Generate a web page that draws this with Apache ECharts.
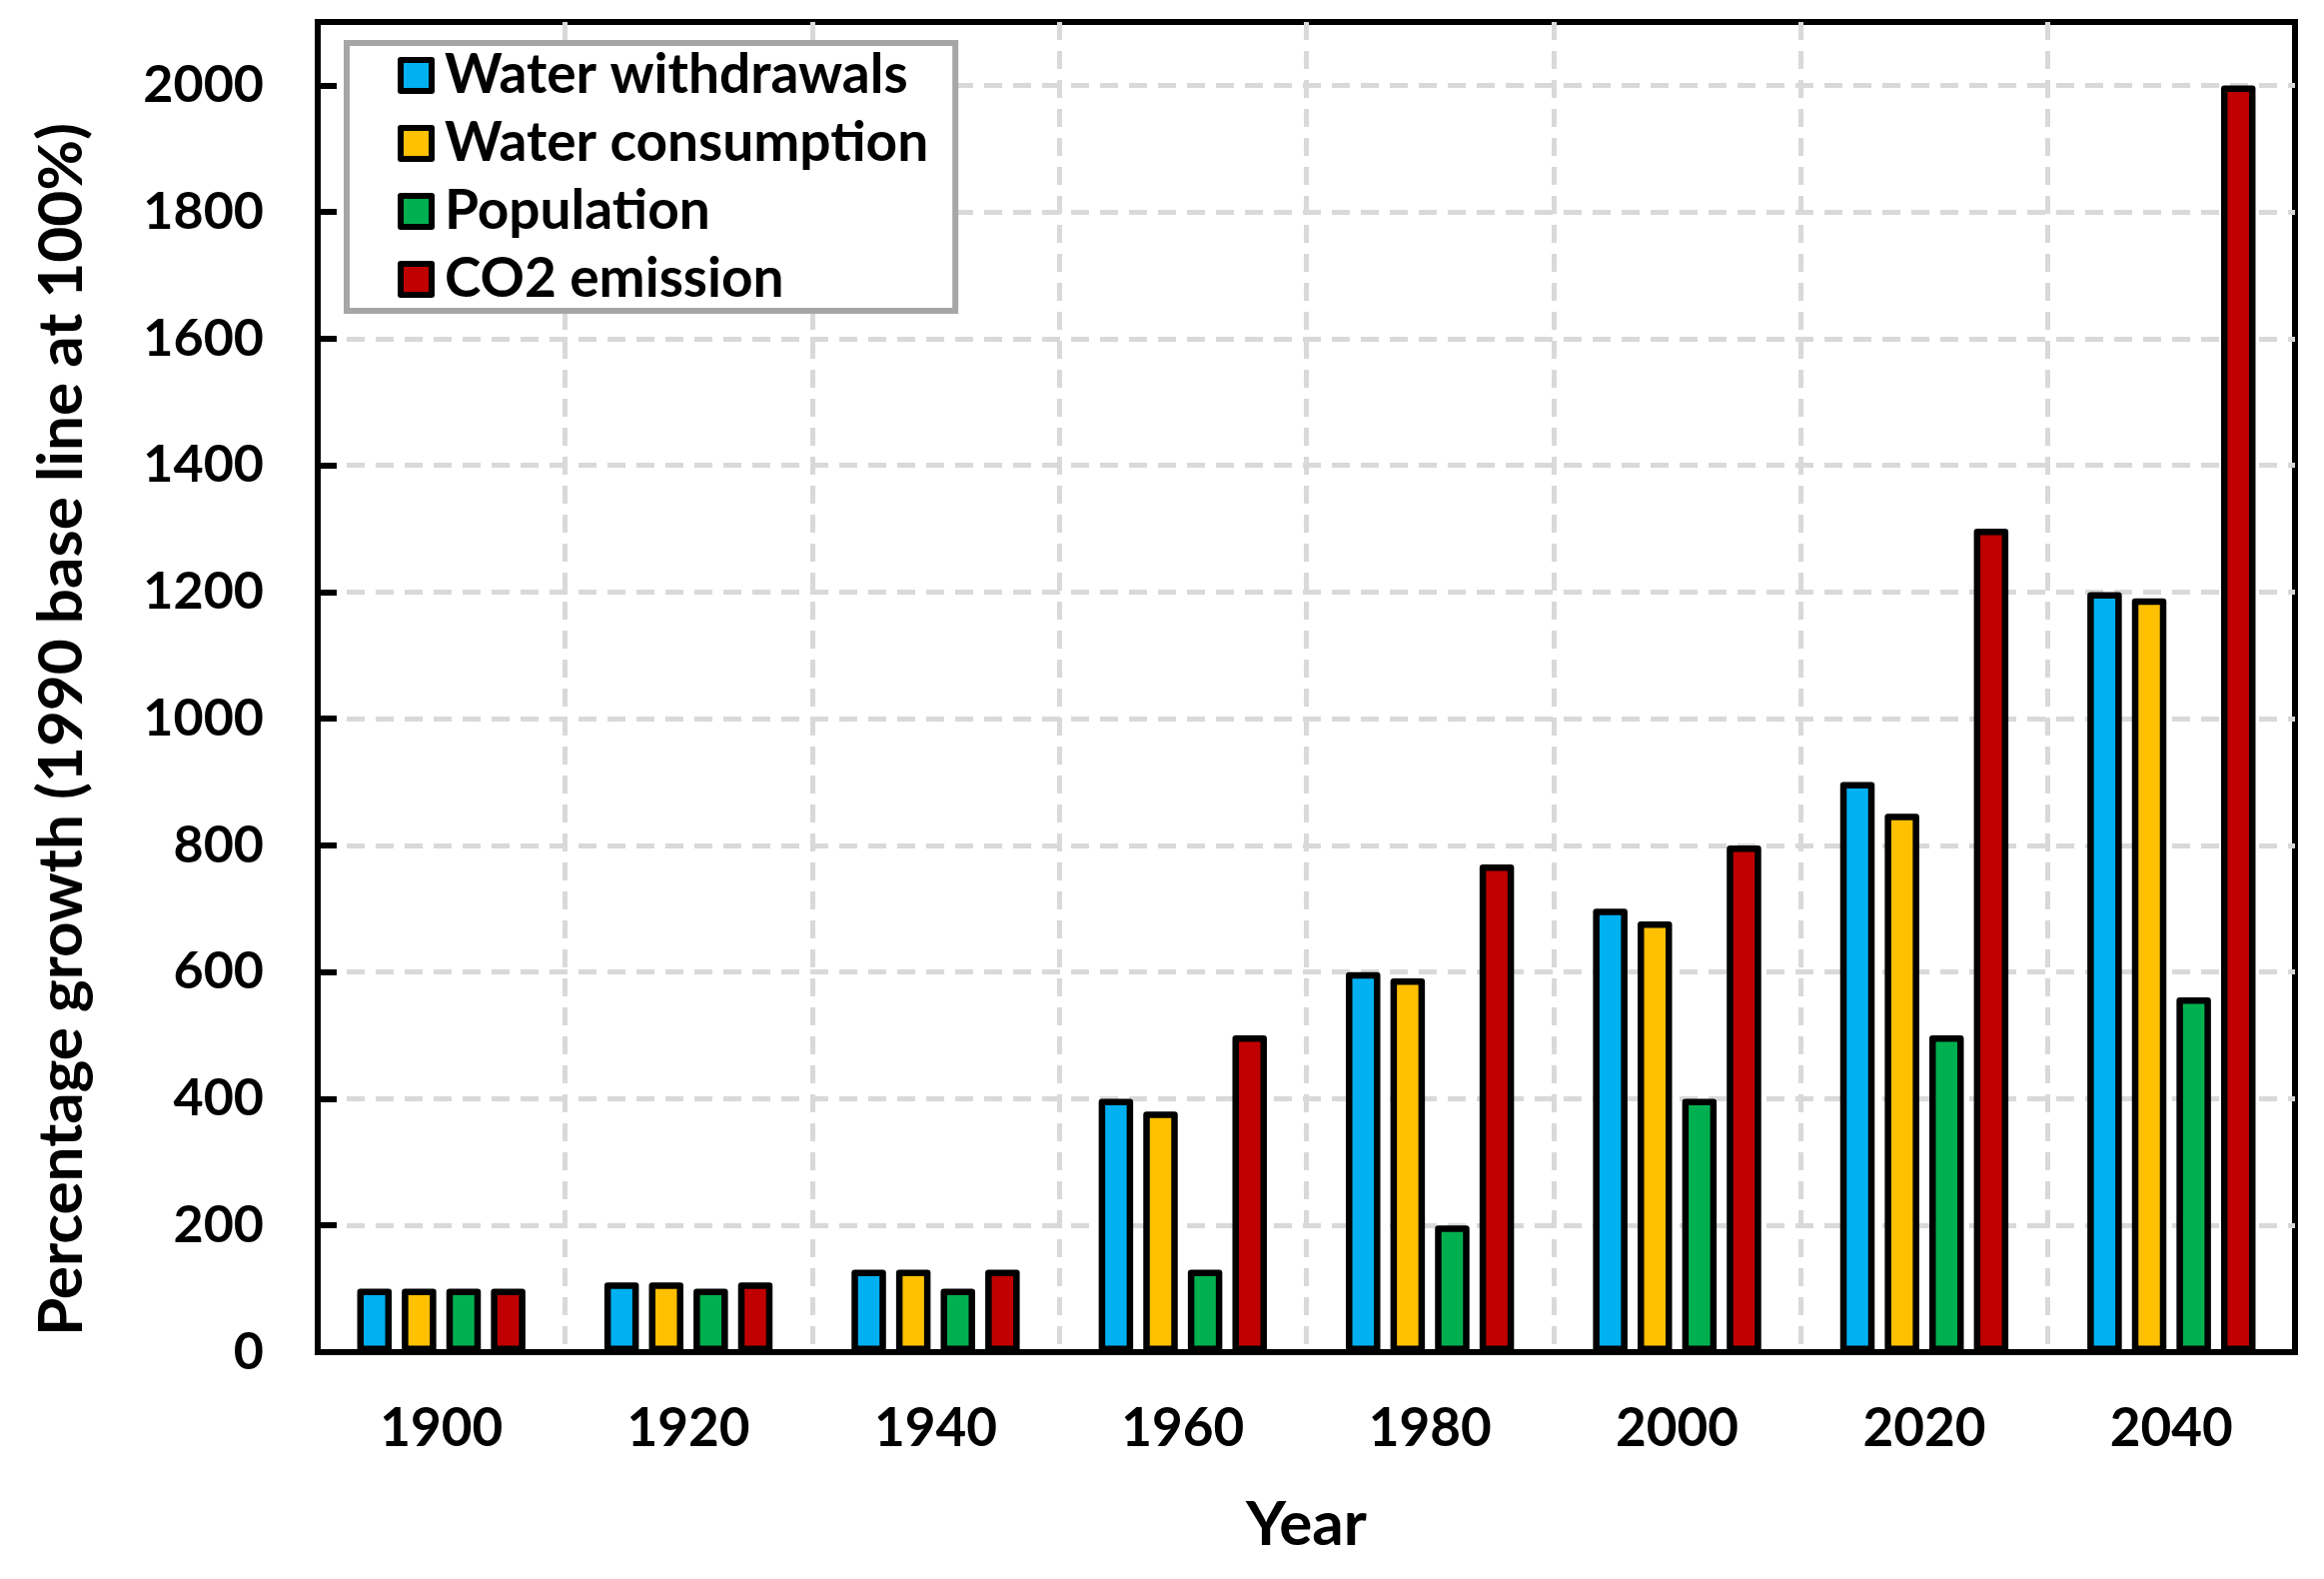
<!DOCTYPE html>
<html>
<head>
<meta charset="utf-8">
<script src="https://cdn.jsdelivr.net/npm/echarts@6/dist/echarts.min.js"></script>
<style>
html,body{margin:0;padding:0;background:#fff;}
#chart{width:2326px;height:1580px;}
</style>
</head>
<body>
<div id="chart"></div>
<script>
const years = ['1900','1920','1940','1960','1980','2000','2020','2040'];
const waterWithdrawals = [100, 110, 130, 400, 600, 700, 900, 1200];
const waterConsumption = [100, 110, 130, 380, 590, 680, 850, 1190];
const population = [100, 100, 100, 130, 200, 400, 500, 560];
const co2Emission = [100, 110, 130, 500, 770, 800, 1300, 2000];
const seriesNames = ['Water withdrawals', 'Water consumption', 'Population', 'CO2 emission'];
const seriesColors = ['#00B0F0', '#FFC000', '#00B050', '#C00000'];
const yTitle = 'Percentage growth (1990 base line at 100%)';
const xTitle = 'Year';

const FONT = 'Lato';
const chart = echarts.init(document.getElementById('chart'), null, {renderer: 'canvas'});

const dataSets = [waterWithdrawals, waterConsumption, population, co2Emission];
const series = dataSets.map((d, i) => ({
  name: seriesNames[i],
  type: 'bar',
  data: d,
  barWidth: 34.5,
  barGap: '29.3%',
  itemStyle: {color: seriesColors[i], borderColor: '#000', borderWidth: 6.5, borderJoin: 'round'},
  emphasis: {disabled: true}
}));

chart.setOption({
  animation: false,
  backgroundColor: '#fff',
  grid: {left: 318, right: 29, top: 22, bottom: 227, show: true, borderColor: '#000', borderWidth: 6, backgroundColor: 'transparent'},
  legend: {
    orient: 'vertical',
    left: 347, top: 43,
    backgroundColor: '#fff',
    borderColor: '#a6a6a6', borderWidth: 6,
    padding: [4, 27, 3, 51],
    itemGap: 11,
    itemWidth: 31, itemHeight: 31,
    icon: 'rect',
    itemStyle: {borderColor: '#000', borderWidth: 6},
    textStyle: {fontFamily: FONT, fontWeight: 'bold', fontSize: 55, color: '#000', lineHeight: 57, width: 476, padding: [0, 0, 0, 8]},
    data: seriesNames
  },
  xAxis: {
    type: 'category',
    data: years,
    name: xTitle,
    nameLocation: 'middle',
    nameGap: 142,
    nameTextStyle: {fontFamily: FONT, fontWeight: 'bold', fontSize: 62, color: '#000'},
    axisLine: {lineStyle: {color: '#000', width: 6}},
    axisTick: {inside: true, length: 19, lineStyle: {color: '#000', width: 6}},
    axisLabel: {margin: 50, fontFamily: FONT, fontWeight: 'bold', fontSize: 53, color: '#000'},
    splitLine: {show: true, showMinLine: false, showMaxLine: false, lineStyle: {color: '#d9d9d9', width: 5, type: [18, 11]}}
  },
  yAxis: {
    type: 'value',
    min: 0, max: 2100, interval: 200,
    axisLine: {show: true, lineStyle: {color: '#000', width: 6}},
    axisTick: {show: true, inside: true, length: 19, lineStyle: {color: '#000', width: 6}},
    axisLabel: {margin: 54, fontFamily: FONT, fontWeight: 'bold', fontSize: 52, color: '#000',
      formatter: v => (v % 200 === 0 ? String(v) : '')},
    splitLine: {show: true, showMinLine: false, showMaxLine: false, lineStyle: {color: '#d9d9d9', width: 5, type: [18, 11]}}
  },
  graphic: [{
    type: 'text',
    x: 62, y: 730,
    rotation: Math.PI / 2,
    style: {text: yTitle, font: 'bold 62px ' + FONT, fill: '#000', textAlign: 'center', textVerticalAlign: 'middle'}
  }],
  series: series
});
</script>
</body>
</html>
